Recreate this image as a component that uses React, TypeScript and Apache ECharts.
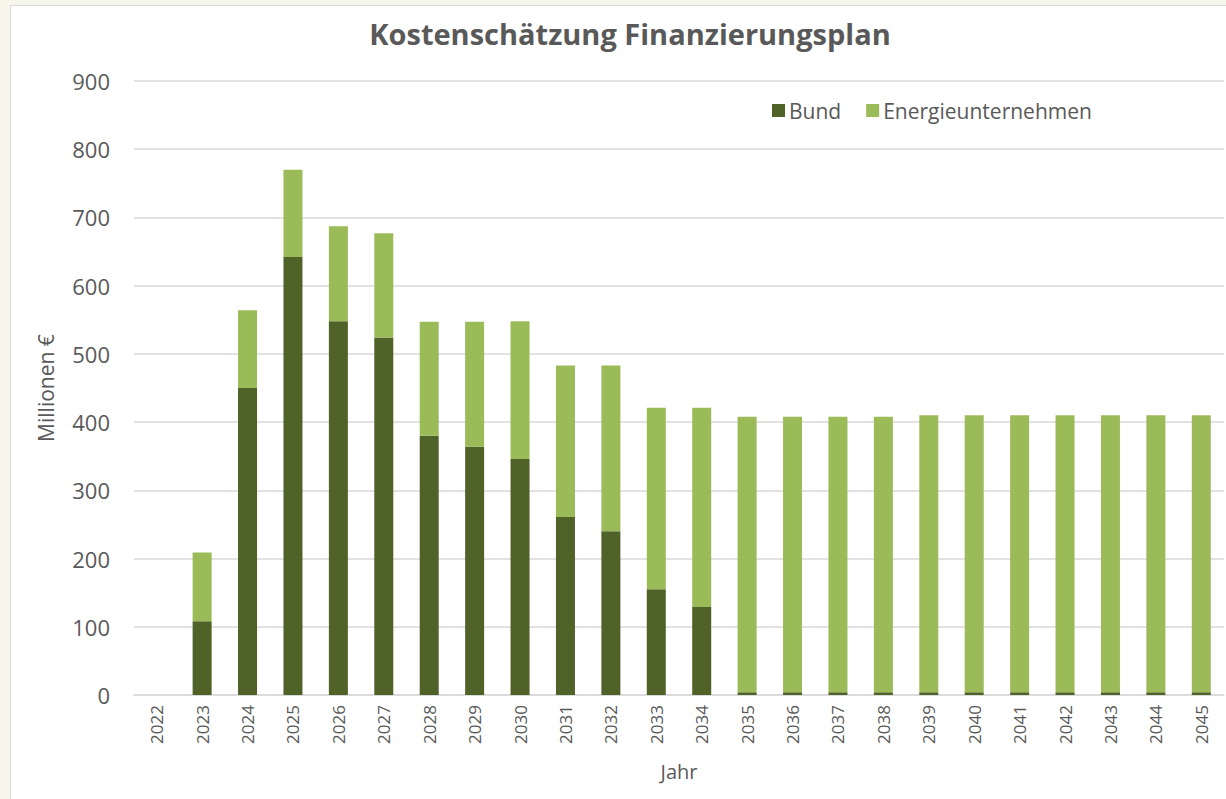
import React, { useEffect, useRef } from "react";
import * as echarts from "echarts";

const years = ["2022","2023","2024","2025","2026","2027","2028","2029","2030","2031","2032","2033","2034","2035","2036","2037","2038","2039","2040","2041","2042","2043","2044","2045"];
const bund = [0,108,450,642,548,524,380,364,346,261,240,155,129,4,4,4,4,4,4,4,4,4,4,4];
const energie = [0,101,114,128,139,153,167,183,202,222,243,266,292,404,404,404,404,406,406,406,406,406,406,406];
const yTicks = { min: 0, max: 900, interval: 100 };

const FONT = "'Open Sans', Lato, sans-serif";
const TXT = "#595959";

export default function App() {
  const ref = useRef<HTMLDivElement>(null);
  useEffect(() => {
    document.body.style.margin = "0";
    const chart = echarts.init(ref.current!, null, { renderer: "svg" });
    chart.setOption({
      animation: false,
      backgroundColor: "transparent",
      textStyle: { fontFamily: FONT, color: TXT },
      title: {
        text: "Kostenschätzung Finanzierungsplan",
        left: 625,
        textAlign: "center",
        top: 14,
        textStyle: { fontFamily: FONT, fontSize: 29, fontWeight: "bold", color: TXT },
      },
      legend: {
        left: 767,
        top: 95,
        icon: "rect",
        itemWidth: 13,
        itemHeight: 13,
        itemGap: 25,
        textStyle: { fontFamily: FONT, fontSize: 21, color: TXT, padding: [0, 0, 0, -1] },
        data: ["Bund", "Energieunternehmen"],
      },
      grid: { left: 134, right: 2, top: 81, bottom: 104, containLabel: false },
      xAxis: {
        type: "category",
        data: years,
        name: "Jahr",
        nameLocation: "middle",
        nameGap: 66,
        nameTextStyle: { fontFamily: FONT, fontSize: 20, color: TXT },
        axisLine: { lineStyle: { color: "#d9d9d9", width: 1.5 } },
        axisTick: { show: false },
        axisLabel: { rotate: 90, fontSize: 17, color: TXT, fontFamily: FONT, margin: 10 },
      },
      yAxis: {
        type: "value",
        min: yTicks.min,
        max: yTicks.max,
        interval: yTicks.interval,
        name: "Millionen €",
        nameLocation: "middle",
        nameGap: 78,
        nameRotate: 90,
        nameTextStyle: { fontFamily: FONT, fontSize: 21, color: TXT },
        axisLine: { show: false },
        axisTick: { show: false },
        axisLabel: { fontSize: 22, color: TXT, fontFamily: FONT, margin: 24 },
        splitLine: { lineStyle: { color: "#d9d9d9", width: 1.5 } },
      },
      series: [
        {
          name: "Bund",
          type: "bar",
          stack: "total",
          barWidth: 19,
          data: bund,
          itemStyle: { color: "#4f6228" },
        },
        {
          name: "Energieunternehmen",
          type: "bar",
          stack: "total",
          barWidth: 19,
          data: energie,
          itemStyle: { color: "#9bbb59" },
        },
      ],
    });
    return () => chart.dispose();
  }, []);
  return (
    <div style={{ position: "relative", width: 1226, height: 799, background: "#f6f6ea", overflow: "hidden" }}>
      <div style={{ position: "absolute", left: 10, top: 5, width: 1300, height: 900, background: "#ffffff", border: "1px solid #d9d9d9" }} />
      <div ref={ref} style={{ position: "absolute", left: 0, top: 0, width: 1226, height: 799 }} />
    </div>
  );
}
